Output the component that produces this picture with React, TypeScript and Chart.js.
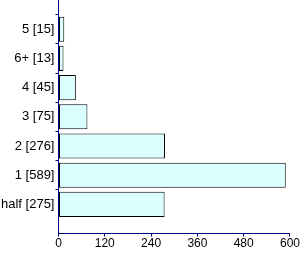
import React, { useEffect, useRef } from "react";
import { Chart, registerables } from "chart.js";

Chart.register(...registerables);

const categories = ["", "5 [15]", "6+ [13]", "4 [45]", "3 [75]", "2 [276]", "1 [589]", "half [275]", ""];
const values: (number | null)[] = [null, 15, 13, 45, 75, 276, 589, 275, null];
const xTicks = [0, 120, 240, 360, 480, 600];

export default function App() {
  const ref = useRef<HTMLCanvasElement>(null);
  useEffect(() => {
    if (!ref.current) return;
    const navy = "#000080";
    const chart = new Chart(ref.current, {
      type: "bar",
      data: {
        labels: categories,
        datasets: [
          {
            data: values,
            backgroundColor: "#dbffff",
            borderColor: "#000000",
            borderWidth: 1,
            borderSkipped: false,
            categoryPercentage: 1,
            barPercentage: 0.86,
          },
        ],
      },
      options: {
        indexAxis: "y",
        animation: false,
        responsive: false,
        maintainAspectRatio: false,
        layout: { padding: { top: 0, right: 3, bottom: 3, left: 0 } },
        plugins: { legend: { display: false }, tooltip: { enabled: false } },
        scales: {
          x: {
            type: "linear",
            min: xTicks[0],
            max: xTicks[xTicks.length - 1],
            afterBuildTicks: (axis: any) => {
              axis.ticks = xTicks.map((v) => ({ value: v }));
            },
            border: { color: navy, width: 1 },
            grid: { drawOnChartArea: false, tickLength: 3, color: navy },
            ticks: {
              color: "#000",
              font: { family: "Liberation Sans, Arial", size: 12 },
              padding: 0,
              maxRotation: 0,
            },
          },
          y: {
            type: "category",
            offset: false,
            afterFit: (axis: any) => {
              axis.paddingTop = 0;
              axis.paddingBottom = 0;
            },
            border: { color: navy, width: 1 },
            grid: {
              drawOnChartArea: false,
              tickLength: 3,
              color: (ctx: any) => (ctx.tick && ctx.tick.label === "" ? "rgba(0,0,0,0)" : navy),
            },
            ticks: {
              color: "#000",
              font: { family: "Liberation Sans, Arial", size: 13 },
              padding: 1,
              autoSkip: false,
            },
          },
        },
      },
    });
    return () => chart.destroy();
  }, []);
  return (
    <div style={{ position: "fixed", left: 0, top: 0, width: 300, height: 254, background: "#fff" }}>
      <canvas ref={ref} width={300} height={254} style={{ width: 300, height: 254 }} />
    </div>
  );
}
